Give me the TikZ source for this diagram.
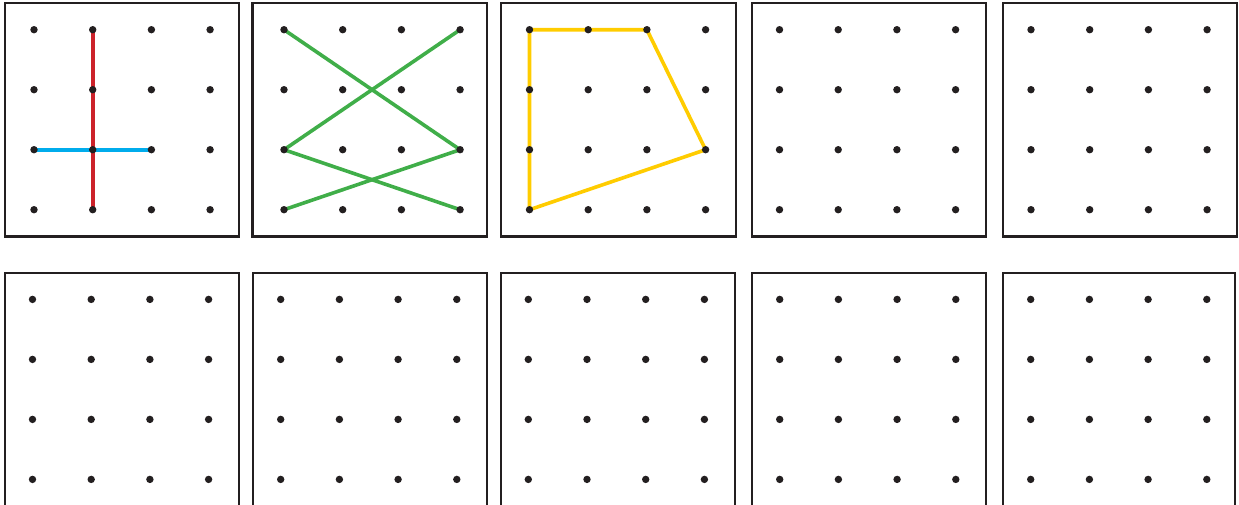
\documentclass[tikz,border=0pt]{standalone}
\usepackage{xcolor}
\usepackage{tikz}
\definecolor{ink}{RGB}{35,31,32}
\definecolor{geored}{RGB}{204,34,42}
\definecolor{geoblue}{RGB}{0,172,236}
\definecolor{geogreen}{RGB}{64,174,73}
\definecolor{geoyellow}{RGB}{255,204,0}
\begin{document}
\begin{tikzpicture}[x=1pt,y=-1pt,
    board/.style={draw=ink,line width=2.2pt},
    peg/.style={circle,fill=ink,inner sep=0pt,minimum size=7.4pt},
    band/.style={line width=3.6pt,line join=round}]
  \useasboundingbox (0,0) rectangle (1239,504);
  \clip (0,0) rectangle (1239,504);
  % boards: number/left/right/first peg x/top/bottom
  \foreach \n/\l/\r/\d/\t/\b in {1/5/239.3/34/3/236.5,
      2/252.5/487.3/284/3/236.5, 3/501/735.7/529.5/3/236.5,
      4/752.3/986/779.5/3/236.5, 5/1003.3/1237.3/1031/3/236.5,
      6/5/239/32.5/272.7/540, 7/253.3/487/280.7/272.7/540,
      8/501/735/528.3/272.7/540, 9/752.3/985.7/779.7/272.7/540,
      10/1003.3/1234.7/1030.7/272.7/540}{
    \draw[board] (\l,\t) rectangle (\r,\b);
    \foreach \c in {0,...,3}
      \foreach \k in {0,...,3}
        \coordinate (p\n-\c-\k) at ({\d+\c*58.7},{\t+26.7+\k*60});}
  % rubber bands
  \draw[band,geored] (p1-1-0) -- (p1-1-3);
  \draw[band,geoblue] (p1-0-2) -- (p1-2-2);
  \draw[band,geogreen] (p2-0-0) -- (p2-3-2) -- (p2-0-3);
  \draw[band,geogreen] (p2-3-0) -- (p2-0-2) -- (p2-3-3);
  \draw[band,geoyellow] (p3-0-0) -- (p3-2-0) -- (p3-3-2) -- (p3-0-3) -- cycle;
  % pegs
  \foreach \n in {1,...,10}
    \foreach \c in {0,...,3}
      \foreach \k in {0,...,3}
        \node[peg] (g\n-\c-\k) at (p\n-\c-\k) {};
\end{tikzpicture}
\end{document}
